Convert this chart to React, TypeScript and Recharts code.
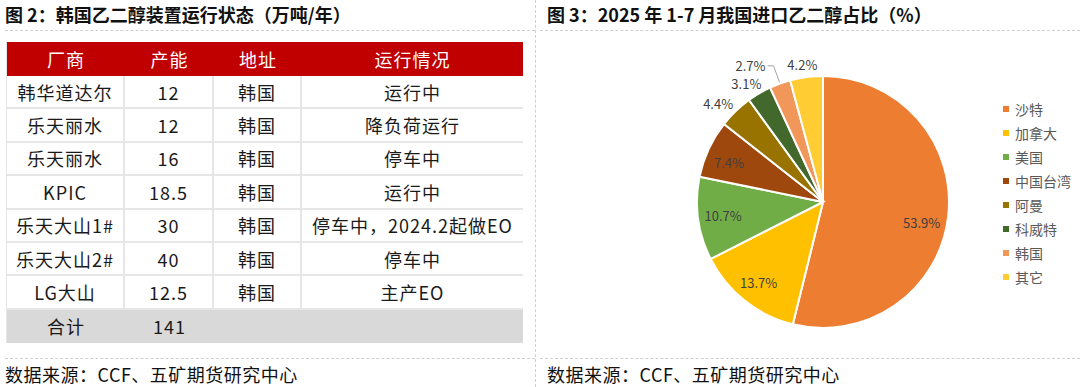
import React from 'react';
import { PieChart, Pie, Cell } from 'recharts';

// ---------- table data ----------
const tableHeaders = ['厂商', '产能', '地址', '运行情况'];
const plants = ['韩华道达尔', '乐天丽水', '乐天丽水', 'KPIC', '乐天大山1#', '乐天大山2#', 'LG大山'];
const capacities = ['12', '12', '16', '18.5', '30', '40', '12.5'];
const locations = ['韩国', '韩国', '韩国', '韩国', '韩国', '韩国', '韩国'];
const statuses = ['运行中', '降负荷运行', '停车中', '运行中', '停车中，2024.2起做EO', '停车中', '主产EO'];
const totalLabel = '合计';
const totalCapacity = '141';

// ---------- pie data ----------
const countries = ['沙特', '加拿大', '美国', '中国台湾', '阿曼', '科威特', '韩国', '其它'];
const shares = [53.9, 13.7, 10.7, 7.4, 4.4, 3.1, 2.7, 4.2];
const sliceColors = ['#ED7D31', '#FFC000', '#70AD47', '#9E480E', '#997300', '#43682B', '#F1975A', '#FFCD33'];

const leftTitle = '图 2：韩国乙二醇装置运行状态（万吨/年）';
const rightTitle = '图 3：2025 年 1-7 月我国进口乙二醇占比（%）';
const sourceText = '数据来源：CCF、五矿期货研究中心';

// label style (radius factor, angle shift in degrees)
const labelRadiusFactor = [0.8, 0.82, 0.8, 0.81, 1.14, 1.12, 1.15, 1.1];
const labelAngleShift = [-5, 0, 0, 2, 3, 2.5, 0, 1];
const leaderIndex = 6;

const FONT = '"Noto Sans CJK SC", "Noto Sans", sans-serif';

const pieData = countries.map((name, i) => ({ name, value: shares[i] }));

const RAD = Math.PI / 180;

const renderLabel = (props: any) => {
  const { cx, cy, midAngle, outerRadius, index, value } = props;
  const txt = `${Number(value).toFixed(1)}%`;
  if (index === leaderIndex) {
    const a = midAngle * RAD;
    const x1 = cx + outerRadius * 1.01 * Math.cos(a);
    const y1 = cy - outerRadius * 1.01 * Math.sin(a);
    const x2 = cx + outerRadius * labelRadiusFactor[index] * Math.cos(a);
    const y2 = cy - outerRadius * labelRadiusFactor[index] * Math.sin(a);
    const x3 = x2 - 6;
    return (
      <g>
        <polyline points={`${x1},${y1} ${x2},${y2} ${x3},${y2}`} fill="none" stroke="#A6A6A6" strokeWidth={1} />
        <text x={x3 - 2} y={y2} textAnchor="end" dominantBaseline="central" fill="#404040" fontSize={13} fontFamily={FONT}>
          {txt}
        </text>
      </g>
    );
  }
  const a = (midAngle + labelAngleShift[index]) * RAD;
  const r = outerRadius * labelRadiusFactor[index];
  const x = cx + r * Math.cos(a);
  const y = cy - r * Math.sin(a);
  return (
    <text x={x} y={y} textAnchor="middle" dominantBaseline="central" fill="#404040" fontSize={13} fontFamily={FONT}>
      {txt}
    </text>
  );
};

const dashedH: React.CSSProperties = { position: 'absolute', height: 0, borderTop: '1px dashed #CFCFCF' };

const colWidths = [118, 89, 88, 221];
const ROW_H = 33.4;
const HEAD_H = 34;
const GRID = '#E6E6E6';

function Table() {
  const rows = plants.map((p, i) => [p, capacities[i], locations[i], statuses[i]]);
  const cellBase: React.CSSProperties = {
    boxSizing: 'border-box',
    display: 'flex',
    alignItems: 'center',
    justifyContent: 'center',
    whiteSpace: 'nowrap',
    fontSize: 18,
    letterSpacing: 1,
  };
  return (
    <div
      style={{
        position: 'absolute',
        left: 6,
        top: 42,
        width: colWidths.reduce((a, b) => a + b, 0),
        display: 'grid',
        gridTemplateColumns: colWidths.map((w) => `${w}px`).join(' '),
        gridTemplateRows: `${HEAD_H}px repeat(${rows.length + 1}, ${ROW_H}px)`,
        fontFamily: FONT,
        borderLeft: `1px solid ${GRID}`,
        borderRight: `1px solid ${GRID}`,
        boxSizing: 'border-box',
      }}
    >
      {tableHeaders.map((h) => (
        <div key={h} style={{ ...cellBase, background: '#C00000', color: '#FFFFFF' }}>
          {h}
        </div>
      ))}
      {rows.map((r, ri) =>
        r.map((v, ci) => (
          <div
            key={`${ri}-${ci}`}
            style={{
              ...cellBase,
              color: '#1A1A1A',
              background: '#FFFFFF',
              borderBottom: `2px solid ${GRID}`,
              borderRight: ci < r.length - 1 ? `2px solid ${GRID}` : 'none',
            }}
          >
            {v}
          </div>
        ))
      )}
      {[totalLabel, totalCapacity, '', ''].map((v, ci) => (
        <div key={`t${ci}`} style={{ ...cellBase, background: '#D9D9D9', color: '#1A1A1A' }}>
          {v}
        </div>
      ))}
    </div>
  );
}

function PieLegend() {
  return (
    <div style={{ position: 'absolute', left: 1003, top: 97, fontFamily: FONT }}>
      {countries.map((c, i) => (
        <div key={c} style={{ height: 24, display: 'flex', alignItems: 'center' }}>
          <span style={{ width: 6, height: 6, background: sliceColors[i], display: 'inline-block', marginRight: 6 }} />
          <span style={{ fontSize: 14, color: '#595959' }}>{c}</span>
        </div>
      ))}
    </div>
  );
}

export default function App() {
  return (
    <div
      style={{
        position: 'fixed',
        left: 0,
        top: 0,
        width: 1080,
        height: 387,
        background: '#FFFFFF',
        overflow: 'hidden',
        fontFamily: FONT,
      }}
    >
      {/* titles */}
      <div style={{ position: 'absolute', left: 5, top: 1, fontSize: 18, fontWeight: 700, color: '#111', whiteSpace: 'nowrap' }}>
        {leftTitle}
      </div>
      <div style={{ position: 'absolute', left: 547, top: 1, fontSize: 18, fontWeight: 700, color: '#111', whiteSpace: 'nowrap' }}>
        {rightTitle}
      </div>

      {/* dashed separators */}
      <div style={{ ...dashedH, left: 5, top: 30, width: 530 }} />
      <div style={{ ...dashedH, left: 540, top: 30, width: 540 }} />
      <div style={{ ...dashedH, left: 5, top: 358, width: 530 }} />
      <div style={{ ...dashedH, left: 540, top: 358, width: 540 }} />
      <div style={{ position: 'absolute', left: 535, top: 0, width: 0, height: 387, borderLeft: '1px dashed #CFCFCF' }} />

      <Table />

      {/* pie chart */}
      <div style={{ position: 'absolute', left: 535, top: 0 }}>
        <PieChart width={545} height={387} margin={{ top: 0, right: 0, bottom: 0, left: 0 }}>
          <Pie
            data={pieData}
            dataKey="value"
            nameKey="name"
            cx={288}
            cy={202}
            outerRadius={126}
            startAngle={90}
            endAngle={-270}
            stroke="#FFFFFF"
            strokeWidth={2}
            label={renderLabel}
            labelLine={false}
            isAnimationActive={false}
          >
            {pieData.map((d, i) => (
              <Cell key={d.name} fill={sliceColors[i]} />
            ))}
          </Pie>
        </PieChart>
      </div>
      <PieLegend />

      {/* sources */}
      <div style={{ position: 'absolute', left: 5, top: 361, fontSize: 18, letterSpacing: 0.5, color: '#111', whiteSpace: 'nowrap' }}>
        {sourceText}
      </div>
      <div style={{ position: 'absolute', left: 547, top: 361, fontSize: 18, letterSpacing: 0.5, color: '#111', whiteSpace: 'nowrap' }}>
        {sourceText}
      </div>
    </div>
  );
}
